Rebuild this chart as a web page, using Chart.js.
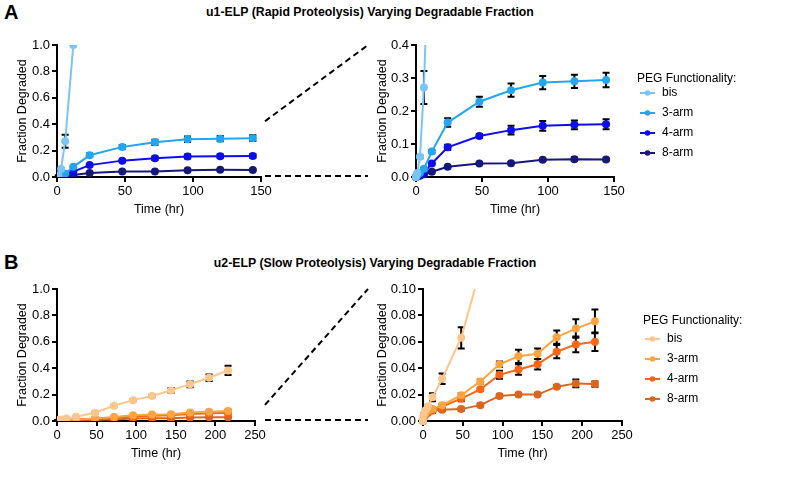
<!DOCTYPE html>
<html><head><meta charset="utf-8">
<script src="https://cdn.jsdelivr.net/npm/chart.js@4.4.1/dist/chart.umd.min.js"></script>
<style>
html,body{margin:0;padding:0;background:#fff;}
#wrap{position:relative;width:800px;height:477px;overflow:hidden;background:#fff;font-family:'Liberation Sans',Arial,sans-serif;color:#000;}
#wrap canvas{position:absolute;}
.ttl{position:absolute;font-weight:bold;font-size:12.3px;white-space:nowrap;transform:translate(-50%,-50%);}
.let{position:absolute;font-weight:bold;font-size:20px;}
#dash{position:absolute;left:0;top:0;}
</style></head>
<body>
<div id="wrap">
  <div class="let" style="left:4px;top:1px;">A</div>
  <div class="ttl" style="left:370px;top:12px;">u1-ELP (Rapid Proteolysis) Varying Degradable Fraction</div>
  <div class="let" style="left:4px;top:251px;">B</div>
  <div class="ttl" style="left:375px;top:263px;">u2-ELP (Slow Proteolysis) Varying Degradable Fraction</div>
</div>
<script>
// ---------- data ----------
const seriesLabels = ['bis', '3-arm', '4-arm', '8-arm'];
const legendTitle = 'PEG Functionality:';

// u1-ELP (rapid)
const timesA = [0, 1, 3, 6, 12, 24, 48, 72, 96, 120, 144];
const bisA   = [0, 0.012, 0.061, 0.271, 1.0];
const bisAErr = [0, 0.002, 0.004, 0.05, 0];
const threeA = [0, 0.005, 0.012, 0.025, 0.077, 0.165, 0.228, 0.263, 0.286, 0.290, 0.294];
const threeAErr = [0, 0.001, 0.002, 0.003, 0.005, 0.013, 0.015, 0.02, 0.02, 0.02, 0.022];
const fourA  = [0, 0.003, 0.006, 0.012, 0.041, 0.090, 0.124, 0.142, 0.155, 0.158, 0.160];
const fourAErr = [0, 0.001, 0.001, 0.002, 0.003, 0.008, 0.006, 0.013, 0.015, 0.013, 0.015];
const eightA = [0, 0.002, 0.004, 0.008, 0.016, 0.031, 0.041, 0.042, 0.052, 0.054, 0.053];
const eightAErr = [0, 0, 0, 0.001, 0.002, 0.002, 0.002, 0.002, 0.003, 0.005, 0.003];

// u2-ELP (slow)
const timesB = [0, 1, 3, 6, 12, 24, 48, 72, 96, 120, 144, 168, 192, 216];
const bisB   = [0, 0.005, 0.008, 0.011, 0.018, 0.032, 0.063, 0.115, 0.158, 0.19, 0.232, 0.278, 0.328, 0.383];
const bisBErr = [0, 0.001, 0.001, 0.001, 0.003, 0.004, 0.008, 0.006, 0.006, 0.008, 0.018, 0.022, 0.025, 0.035];
const threeB = [0, 0.004, 0.006, 0.008, 0.009, 0.012, 0.0195, 0.030, 0.043, 0.049, 0.051, 0.0635, 0.070, 0.0755];
const threeBErr = [0, 0.001, 0.001, 0.001, 0.001, 0.001, 0.0015, 0.0015, 0.002, 0.005, 0.004, 0.005, 0.007, 0.009];
const fourB  = [0, 0.003, 0.005, 0.007, 0.008, 0.011, 0.017, 0.024, 0.035, 0.039, 0.043, 0.0525, 0.058, 0.060];
const fourBErr = [0, 0.001, 0.001, 0.001, 0.002, 0.001, 0.002, 0.001, 0.003, 0.004, 0.004, 0.005, 0.006, 0.007];
const eightB = [0, 0.003, 0.005, 0.006, 0.008, 0.0085, 0.009, 0.012, 0.019, 0.020, 0.020, 0.026, 0.0285, 0.028];
const eightBErr = [0, 0, 0, 0, 0.001, 0.001, 0.001, 0.001, 0.001, 0.001, 0.001, 0.001, 0.003, 0.002];

const colorsA = ['#7cc4f5', '#22a6f2', '#0c0ced', '#17177a'];
const colorsB = ['#fdc68c', '#fca540', '#fd6414', '#dc661e'];

// axis tick settings
const xMaxA = 150, xMaxB = 250, xStep = 50;
const yMaxAfull = 1.0, yStepAfull = 0.2;
const yMaxAzoom = 0.4, yStepAzoom = 0.1;
const yMaxBfull = 1.0, yStepBfull = 0.2;
const yMaxBzoom = 0.10, yStepBzoom = 0.02;

// ---------- rendering ----------
const F = "'Liberation Sans', Arial, sans-serif";
const wrap = document.getElementById('wrap');

const errorBars = {
  id: 'errorBars',
  beforeDatasetsDraw(chart) {
    const ctx = chart.ctx, a = chart.chartArea, xs = chart.scales.x, ys = chart.scales.y;
    ctx.save();
    ctx.beginPath(); ctx.rect(a.left - 6, a.top, a.right - a.left + 12, a.bottom - a.top + 6); ctx.clip();
    ctx.strokeStyle = '#000'; ctx.lineWidth = 2;
    chart.data.datasets.forEach(ds => {
      if (!ds.errors) return;
      ds.data.forEach((p, i) => {
        const e = ds.errors[i]; if (!e) return;
        const x = xs.getPixelForValue(p.x);
        const y1 = ys.getPixelForValue(p.y + e), y2 = ys.getPixelForValue(p.y - e);
        ctx.beginPath();
        ctx.moveTo(x, y1); ctx.lineTo(x, y2);
        ctx.moveTo(x - 3.5, y1); ctx.lineTo(x + 3.5, y1);
        ctx.moveTo(x - 3.5, y2); ctx.lineTo(x + 3.5, y2);
        ctx.stroke();
      });
    });
    ctx.restore();
  }
};

const sideLegend = {
  id: 'sideLegend',
  afterDraw(chart, args, o) {
    if (!o || !o.show) return;
    const ctx = chart.ctx, a = chart.chartArea;
    const x0 = a.right + o.dx;
    ctx.save();
    ctx.fillStyle = '#000'; ctx.font = '12px ' + F; ctx.textBaseline = 'middle'; ctx.textAlign = 'left';
    ctx.fillText(legendTitle, x0, o.titleY);
    chart.data.datasets.forEach((ds, i) => {
      const y = o.firstY + i * 20;
      ctx.strokeStyle = ds.borderColor; ctx.lineWidth = 2;
      ctx.beginPath(); ctx.moveTo(x0 + o.mx, y); ctx.lineTo(x0 + o.mx + 15, y); ctx.stroke();
      ctx.fillStyle = ds.borderColor;
      ctx.beginPath(); ctx.arc(x0 + o.mx + 7.5, y, 2.8, 0, Math.PI * 2); ctx.fill();
      ctx.fillStyle = '#000';
      ctx.fillText(ds.label, x0 + o.tx, y);
    });
    ctx.restore();
  }
};

function panel(o) {
  const cv = document.createElement('canvas');
  cv.width = o.w; cv.height = o.h;
  cv.style.left = o.left + 'px'; cv.style.top = o.top + 'px';
  cv.style.width = o.w + 'px'; cv.style.height = o.h + 'px';
  wrap.appendChild(cv);
  const datasets = o.series.map((s, k) => ({
    label: seriesLabels[k],
    data: s.values.map((v, i) => ({ x: o.times[i], y: v })),
    errors: s.errors,
    borderColor: o.colors[k], backgroundColor: o.colors[k],
    borderWidth: 2, pointRadius: 4, pointHoverRadius: 4, pointBorderWidth: 0,
    tension: 0, clip: o.clip
  }));
  const chart = new Chart(cv, {
    type: 'line',
    data: { datasets },
    plugins: [errorBars, sideLegend],
    options: {
      responsive: false, animation: false, events: [],
      layout: { padding: { top: 15, right: o.padRight, left: 0, bottom: 0 } },
      plugins: { legend: { display: false }, tooltip: { enabled: false }, sideLegend: o.legend || { show: false } },
      scales: {
        x: {
          type: 'linear', min: 0, max: o.xMax,
          ticks: { stepSize: xStep, color: '#000', font: { size: 13, family: F }, padding: 2, maxRotation: 0, autoSkip: false },
          grid: { display: true, drawOnChartArea: false, drawTicks: true, tickLength: 5, color: '#000', lineWidth: 2 },
          border: { display: true, color: '#000', width: 2 },
          title: { display: true, text: 'Time (hr)', color: '#000', font: { size: 12.5, family: F }, padding: { top: 2, bottom: 0 } },
          afterFit: s => { s.height = 40; }
        },
        y: {
          type: 'linear', min: 0, max: o.yMax,
          ticks: { stepSize: o.yStep, color: '#000', font: { size: 13, family: F }, padding: 2, autoSkip: false,
                   callback: v => Number(v).toFixed(o.dec) },
          grid: { display: true, drawOnChartArea: false, drawTicks: true, tickLength: 5, color: '#000', lineWidth: 2 },
          border: { display: true, color: '#000', width: 2 },
          title: { display: true, text: 'Fraction Degraded', color: '#000', font: { size: 12.5, family: F }, padding: { top: 15.5, bottom: 0 } },
          afterFit: s => { s.width = o.yW; }
        }
      }
    }
  });
  chart._off = { left: o.left, top: o.top };
  return chart;
}

const seriesA = [
  { values: bisA, errors: bisAErr }, { values: threeA, errors: threeAErr },
  { values: fourA, errors: fourAErr }, { values: eightA, errors: eightAErr }
];
const seriesB = [
  { values: bisB, errors: bisBErr }, { values: threeB, errors: threeBErr },
  { values: fourB, errors: fourBErr }, { values: eightB, errors: eightBErr }
];
const zoomClip = { left: 6, top: 0, right: 6, bottom: 6 };

const aL = panel({ left: 0, top: 30, w: 280, h: 187, yW: 57, padRight: 19, xMax: xMaxA, yMax: yMaxAfull, yStep: yStepAfull, dec: 1, times: timesA, series: seriesA, colors: colorsA });
const aR = panel({ left: 360, top: 30, w: 440, h: 187, yW: 56, padRight: 186, xMax: xMaxA, yMax: yMaxAzoom, yStep: yStepAzoom, dec: 1, times: timesA, series: seriesA, colors: colorsA, clip: zoomClip,
  legend: { show: true, dx: 23, titleY: 49, firstY: 63, mx: 3, tx: 25 } });
const bL = panel({ left: 0, top: 274, w: 280, h: 187, yW: 57, padRight: 25, xMax: xMaxB, yMax: yMaxBfull, yStep: yStepBfull, dec: 1, times: timesB, series: seriesB, colors: colorsB });
const bR = panel({ left: 360, top: 274, w: 440, h: 187, yW: 63, padRight: 178, xMax: xMaxB, yMax: yMaxBzoom, yStep: yStepBzoom, dec: 2, times: timesB, series: seriesB, colors: colorsB, clip: zoomClip,
  legend: { show: true, dx: 21, titleY: 47, firstY: 65, mx: 2, tx: 24 } });

// dashed zoom connectors, positioned from the charts' own scales
const dc = document.createElement('canvas');
dc.id = 'dash'; dc.width = 800; dc.height = 477;
wrap.appendChild(dc);
const g = dc.getContext('2d');
g.strokeStyle = '#000'; g.lineWidth = 2; g.setLineDash([6, 4]);
function connector(L, R, zoomMax) {
  const x1 = 265, x2 = 368;
  const yTopL = L._off.top + L.scales.y.getPixelForValue(zoomMax) - 3;
  const yTopR = R._off.top + R.scales.y.getPixelForValue(zoomMax);
  const y0 = L._off.top + L.scales.y.getPixelForValue(0);
  g.beginPath(); g.moveTo(x1, yTopL); g.lineTo(x2, yTopR); g.stroke();
  g.beginPath(); g.moveTo(x1, y0 - 1); g.lineTo(x2, y0 - 1); g.stroke();
}
connector(aL, aR, yMaxAzoom);
connector(bL, bR, yMaxBzoom);
</script>
</body></html>
